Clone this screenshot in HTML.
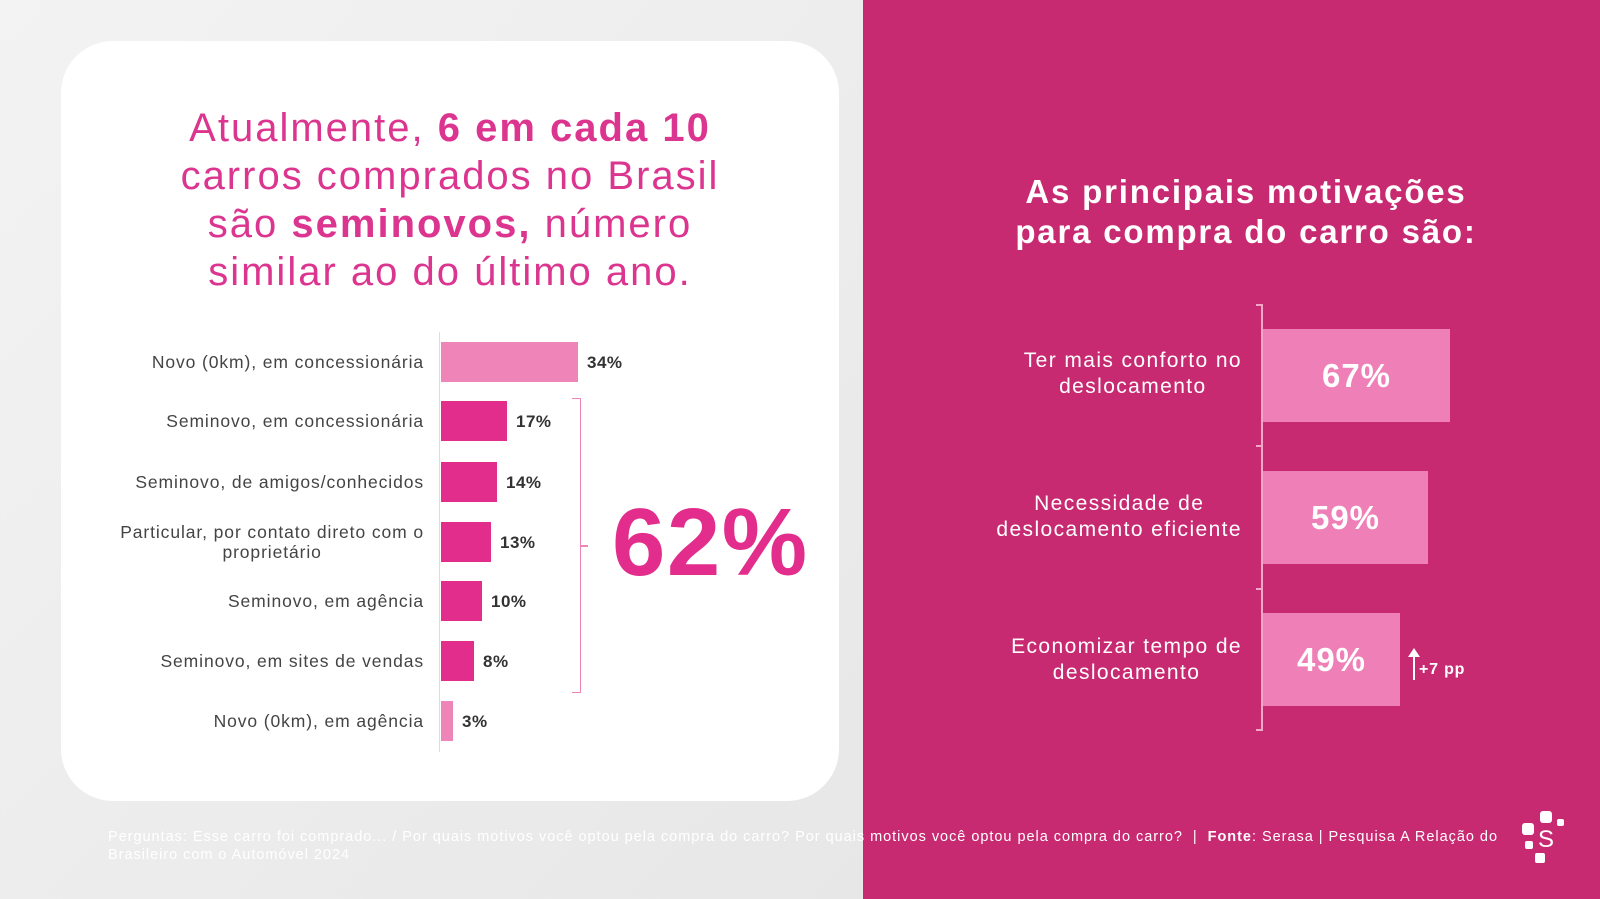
<!DOCTYPE html>
<html><head><meta charset="utf-8"><style>
*{margin:0;padding:0;box-sizing:border-box}
body{width:1600px;height:899px;overflow:hidden;position:relative;font-family:"Liberation Sans",sans-serif;background:linear-gradient(135deg,#f3f3f3,#e2e2e2)}
.abs{position:absolute}
.right{left:863px;top:0;width:737px;height:899px;background:#c82a72}
.card{left:61px;top:41px;width:778px;height:760px;background:#fff;border-radius:52px}
.title{left:61px;width:778px;top:104px;text-align:center;color:#dc3590;font-size:40px;line-height:48px;letter-spacing:2px}
.lbl{right:1176px;text-align:right;font-size:17.5px;color:#444;line-height:20px;letter-spacing:0.9px}
.bar{left:441px;height:40px;background:#e22d8c}
.val{font-size:17px;font-weight:bold;color:#333;letter-spacing:0.5px}
.rlbl{right:358px;text-align:center;color:#fff;font-size:21px;line-height:26px;letter-spacing:1.4px}
.rbar{left:1263px;background:#ef7fb7;color:#fff;font-weight:bold;font-size:33px;display:flex;align-items:center;justify-content:center;letter-spacing:1px}
</style></head><body>
<div class="abs right"></div>
<div class="abs card"></div>
<div class="abs title">Atualmente, <b>6 em cada 10</b><br>carros comprados no Brasil<br>são <b>seminovos,</b> número<br>similar ao do último ano.</div>
<div class="abs" style="left:439px;top:332px;width:1px;height:420px;background:#ddd"></div>

<div class="abs lbl" style="top:352px">Novo (0km), em concessionária</div>
<div class="abs bar" style="top:342px;width:137px;background:#ef84b8"></div>
<div class="abs val" style="left:587px;top:353px">34%</div>

<div class="abs lbl" style="top:411px">Seminovo, em concessionária</div>
<div class="abs bar" style="top:401px;width:66px"></div>
<div class="abs val" style="left:516px;top:412px">17%</div>

<div class="abs lbl" style="top:472px">Seminovo, de amigos/conhecidos</div>
<div class="abs bar" style="top:462px;width:56px"></div>
<div class="abs val" style="left:506px;top:473px">14%</div>

<div class="abs lbl" style="top:522px;text-align:center">Particular, por contato direto com o<br>proprietário</div>
<div class="abs bar" style="top:522px;width:50px"></div>
<div class="abs val" style="left:500px;top:533px">13%</div>

<div class="abs lbl" style="top:591px">Seminovo, em agência</div>
<div class="abs bar" style="top:581px;width:41px"></div>
<div class="abs val" style="left:491px;top:592px">10%</div>

<div class="abs lbl" style="top:651px">Seminovo, em sites de vendas</div>
<div class="abs bar" style="top:641px;width:33px"></div>
<div class="abs val" style="left:483px;top:652px">8%</div>

<div class="abs lbl" style="top:711px">Novo (0km), em agência</div>
<div class="abs bar" style="top:701px;width:12px;background:#ef84b8"></div>
<div class="abs val" style="left:462px;top:712px">3%</div>

<div class="abs" style="left:572px;top:398px;width:9px;height:295px;border:1.5px solid #ef84b8;border-left:none"></div>
<div class="abs" style="left:581px;top:545px;width:7px;height:1.5px;background:#ef84b8"></div>
<div class="abs" style="left:612px;top:488px;font-size:96px;font-weight:bold;color:#e22d8c;letter-spacing:1.5px;line-height:110px">62%</div>

<div class="abs" style="left:863px;width:766px;top:172px;text-align:center;color:#fff;font-weight:bold;font-size:33px;line-height:40px;letter-spacing:1.8px">As principais motivações<br>para compra do carro são:</div>
<div class="abs" style="left:1261px;top:304px;width:2px;height:427px;background:#f2a6c8"></div>
<div class="abs" style="left:1256px;top:304px;width:6px;height:2px;background:#f2a6c8"></div>
<div class="abs" style="left:1256px;top:729px;width:6px;height:2px;background:#f2a6c8"></div>
<div class="abs" style="left:1256px;top:445px;width:6px;height:2px;background:#f2a6c8"></div>
<div class="abs" style="left:1256px;top:588px;width:6px;height:2px;background:#f2a6c8"></div>

<div class="abs rlbl" style="top:348px">Ter mais conforto no<br>deslocamento</div>
<div class="abs rbar" style="top:329px;width:187px;height:93px">67%</div>
<div class="abs rlbl" style="top:491px">Necessidade de<br>deslocamento eficiente</div>
<div class="abs rbar" style="top:471px;width:165px;height:93px">59%</div>
<div class="abs rlbl" style="top:634px">Economizar tempo de<br>deslocamento</div>
<div class="abs rbar" style="top:613px;width:137px;height:93px">49%</div>
<div class="abs" style="left:1413px;top:652px;width:2px;height:28px;background:#fff"></div>
<div class="abs" style="left:1408px;top:648px;width:0;height:0;border-left:6px solid transparent;border-right:6px solid transparent;border-bottom:9px solid #fff"></div>
<div class="abs" style="left:1419px;top:661px;color:#fff;font-weight:bold;font-size:16px;letter-spacing:0.8px">+7 pp</div>

<div class="abs" style="left:108px;top:828px;width:1480px;color:#fff;font-size:14.5px;line-height:18px;letter-spacing:0.97px">Perguntas: Esse carro foi comprado... / Por quais motivos você optou pela compra do carro? Por quais motivos você optou pela compra do carro? &nbsp;| &nbsp;<b>Fonte</b>: Serasa | Pesquisa A Relação do<br>Brasileiro com o Automóvel 2024</div>

<div class="abs" style="left:1540px;top:811px;width:12px;height:12px;background:#fff;border-radius:3px"></div>
<div class="abs" style="left:1557px;top:819px;width:7px;height:7px;background:#fff;border-radius:2px"></div>
<div class="abs" style="left:1522px;top:823px;width:12px;height:12px;background:#fff;border-radius:3px"></div>
<div class="abs" style="left:1525px;top:841px;width:8px;height:8px;background:#fff;border-radius:2px"></div>
<div class="abs" style="left:1535px;top:853px;width:10px;height:10px;background:#fff;border-radius:2px"></div>
<div class="abs" style="left:1538px;top:826px;color:#fff;font-size:24px">S</div>
</body></html>
